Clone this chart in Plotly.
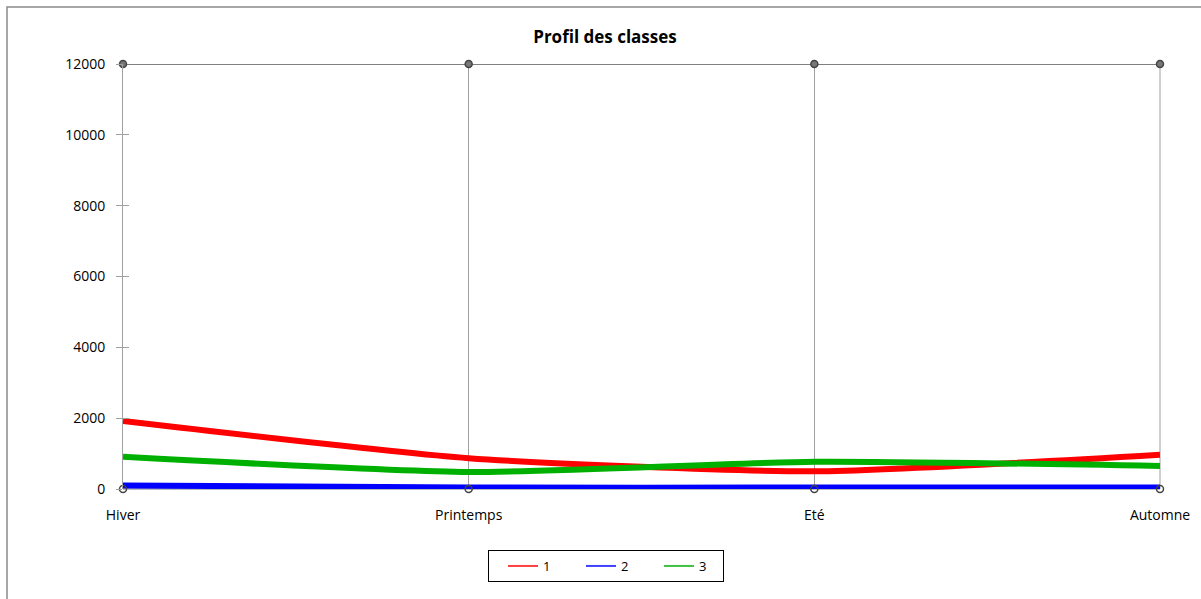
import plotly.graph_objects as go

seasons = ["Hiver", "Printemps", "Eté", "Automne"]
classe_1 = [1920, 870, 500, 970]
classe_2 = [100, 40, 40, 40]
classe_3 = [910, 480, 770, 650]
y_ticks = [0, 2000, 4000, 6000, 8000, 10000, 12000]
y_max = 12000

L, R, T, B = 123, 41, 64, 110
W, H = 1201, 599
pw, ph = W - L - R, H - T - B

def px(x):
    return (x - L) / pw

def py(y):
    return (H - B - y) / ph

fig = go.Figure()

series = [("1", classe_1, "#ff0000"), ("2", classe_2, "#0000ff"), ("3", classe_3, "#00b000")]
for name, vals, col in series:
    fig.add_trace(go.Scatter(x=seasons, y=vals, mode="lines", name=name,
                             line=dict(color=col, width=6, shape="spline", smoothing=0.6),
                             showlegend=False, hoverinfo="x+y+name"))

# top line with markers
fig.add_trace(go.Scatter(x=seasons, y=[y_max] * len(seasons), mode="lines+markers",
                         line=dict(color="#555555", width=1.5), cliponaxis=False,
                         marker=dict(size=7, color="#777777", line=dict(color="#444444", width=1.5)),
                         showlegend=False, hoverinfo="skip"))
# bottom markers
fig.add_trace(go.Scatter(x=seasons, y=[0] * len(seasons), mode="markers", cliponaxis=False,
                         marker=dict(size=7, color="rgba(255,255,255,0)", line=dict(color="#444444", width=1.5)),
                         showlegend=False, hoverinfo="skip"))
# invisible trace to anchor the inner-tick axis
fig.add_trace(go.Scatter(x=[seasons[0]], y=[0], yaxis="y2", mode="markers",
                         marker=dict(size=1, color="rgba(0,0,0,0)"), showlegend=False, hoverinfo="skip"))

legend_cols = {"1": "#ff4040", "2": "#4040ff", "3": "#40c040"}
for name, vals, col in series:
    fig.add_trace(go.Scatter(x=[None], y=[None], mode="lines", name=name,
                             line=dict(color=legend_cols[name], width=2)))

fig.update_layout(
    width=W, height=H,
    margin=dict(l=L, r=R, t=T, b=B, pad=0),
    paper_bgcolor="white", plot_bgcolor="white",
    font=dict(family="Open Sans, sans-serif", size=14, color="#000000"),
    title=dict(text="<b>Profil des classes</b>", x=(605) / W, xanchor="center",
               y=1 - 37 / H, yanchor="middle", font=dict(size=17, family="Open Sans, sans-serif", color="#000000")),
    xaxis=dict(type="category", range=[0, 3], showgrid=True, gridcolor="#a0a0a0", gridwidth=1,
               showline=False, zeroline=False, ticks="", ticklabelstandoff=16,
               tickfont=dict(size=14)),
    yaxis=dict(range=[0, y_max], tickvals=y_ticks, tickformat="d", showgrid=False, zeroline=False,
               showline=True, linecolor="#a0a0a0", linewidth=1,
               ticks="outside", ticklen=6, tickcolor="#a0a0a0", tickwidth=1,
               ticklabelstandoff=8, tickfont=dict(size=14)),
    yaxis2=dict(range=[0, y_max], overlaying="y", side="left", tickvals=y_ticks, showgrid=False,
                zeroline=False, showline=True, linecolor="#a0a0a0", linewidth=1,
                ticks="inside", ticklen=6, tickcolor="#a0a0a0",
                tickwidth=1, showticklabels=False),
    legend=dict(orientation="h", x=px(488), xanchor="left", y=py(550), yanchor="top",
                bordercolor="#000000", borderwidth=1, bgcolor="white", indentation=14,
                font=dict(size=13), entrywidth=19, entrywidthmode="pixels", tracegroupgap=0),
    shapes=[
        dict(type="rect", xref="paper", yref="paper", x0=px(7), x1=px(1215), y0=py(615), y1=py(7),
             line=dict(color="#8a8a8a", width=1.5), layer="below"),
        dict(type="line", xref="paper", yref="paper", x0=0, x1=1, y0=0, y1=0,
             line=dict(color="#777777", width=1), layer="below"),
        dict(type="line", xref="paper", yref="paper", x0=1, x1=1, y0=0, y1=1,
             line=dict(color="#a0a0a0", width=1), layer="below"),
    ],
)

fig.write_html("out.html", config={"displayModeBar": False},
               post_script="document.body.style.margin='0';document.body.style.padding='0';")
